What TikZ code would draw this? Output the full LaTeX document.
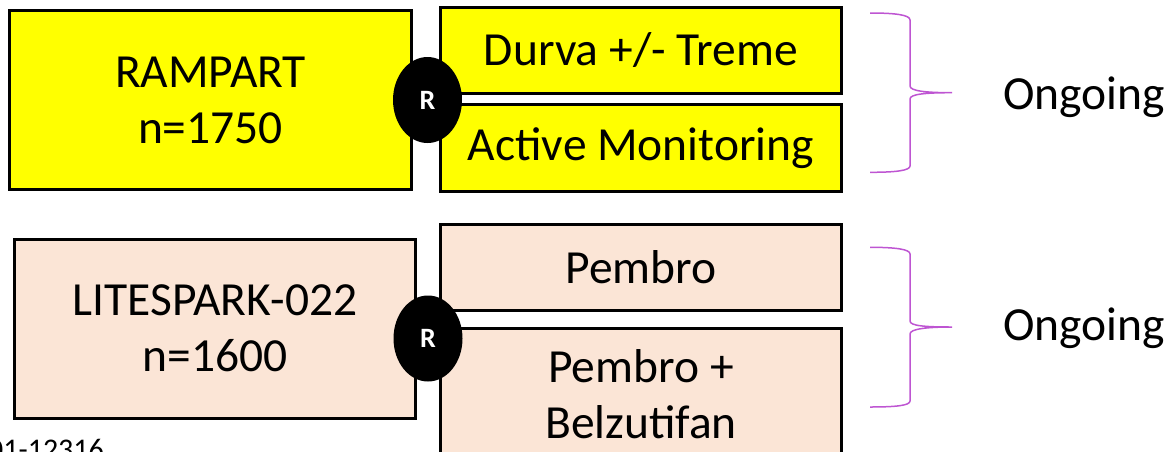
\documentclass[tikz,border=0pt]{standalone}
\usepackage{fontspec}
\setmainfont{Carlito}
\usetikzlibrary{shapes.geometric}
\definecolor{armyellow}{RGB}{255,255,0}
\definecolor{armpeach}{RGB}{251,229,214}
\definecolor{bracecol}{RGB}{190,85,210}
\tikzset{
  armbox/.style={draw=black, line width=3pt, rectangle, inner sep=0pt,
    font=\fontsize{47.5}{56}\selectfont, align=center},
  randnode/.style={ellipse, fill=black, inner sep=0pt,
    minimum width=69pt, minimum height=86pt,
    text=white, font=\fontsize{28}{30}\selectfont\bfseries},
  bigtext/.style={font=\fontsize{47.5}{56}\selectfont, align=center, inner sep=0pt},
  bracepath/.style={draw=bracecol, line width=1.5pt}
}
\begin{document}
\begin{tikzpicture}[x=1pt, y=-1pt]
  \useasboundingbox (0,0) rectangle (1173,451);
  \clip (0,0) rectangle (1173,451);

  % RAMPART trial
  \node[armbox, fill=armyellow, minimum width=402pt, minimum height=179pt]
    (rampart) at (210.5,100) {RAMPART\\n=1750};
  \node[armbox, fill=armyellow, minimum width=401pt, minimum height=86pt]
    (durva) at (641,50.5) {Durva +/- Treme};
  \node[armbox, fill=armyellow, minimum width=401pt, minimum height=87pt]
    (active) at (641,148) {Active Monitoring};
  \node[randnode] (r1) at (427.5,100) {R};

  % LITESPARK-022 trial
  \node[armbox, fill=armpeach, minimum width=401pt, minimum height=178.5pt]
    (litespark) at (215,328.75) {LITESPARK-022\\n=1600};
  \node[armbox, fill=armpeach, minimum width=401pt, minimum height=86pt]
    (pembro) at (641,267.5) {Pembro};
  \node[armbox, fill=armpeach, minimum width=401pt, minimum height=171.5pt]
    (pembrobelz) at (641,414.25) {};
  \node[bigtext] (pembrobelztext) at (641,394) {Pembro +\\Belzutifan};
  \node[randnode] (r2) at (428,338.5) {R};

  % status braces
  \draw[bracepath] (870,13) .. controls (896,13) and (910,15) .. (910,20)
    -- (910,86) .. controls (910,91) and (926,92.7) .. (952,92.7)
    .. controls (926,92.7) and (910,94) .. (910,99)
    -- (910,166) .. controls (910,170.5) and (896,172.3) .. (870,172.3);
  \draw[bracepath] (870,247.3) .. controls (896,247.3) and (910,249.3) .. (910,254)
    -- (910,321) .. controls (910,326) and (926,327) .. (952,327)
    .. controls (926,327) and (910,329) .. (910,334)
    -- (910,401) .. controls (910,405.5) and (896,407) .. (870,407);

  \node[bigtext] (status1) at (1084,97) {Ongoing};
  \node[bigtext] (status2) at (1084,328) {Ongoing};

  % reference number at the lower left
  \node[anchor=base west, inner sep=0pt, font=\fontsize{30}{32}\selectfont]
    (refno) at (-12,459) {01-12316};
\end{tikzpicture}
\end{document}
